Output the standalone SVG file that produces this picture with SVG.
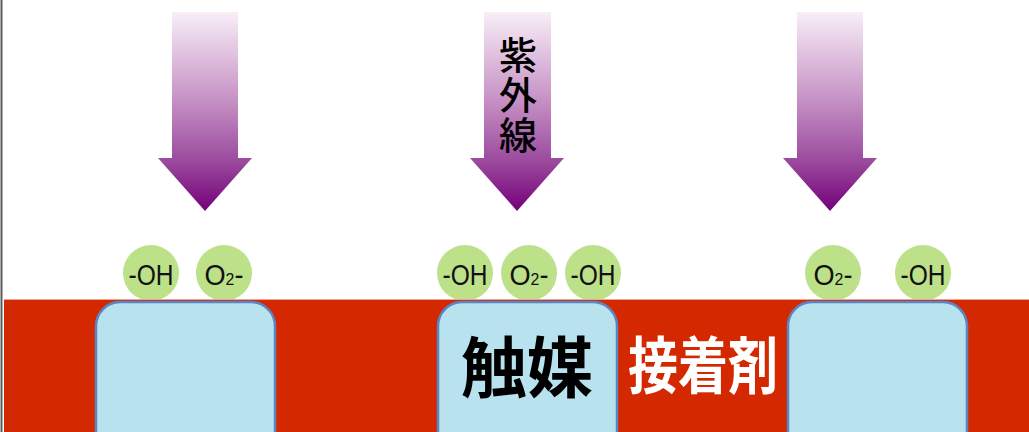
<svg xmlns="http://www.w3.org/2000/svg" width="1029" height="432" viewBox="0 0 1029 432">
<defs>
<linearGradient id="uv" x1="0" y1="12" x2="0" y2="211" gradientUnits="userSpaceOnUse">
<stop offset="0" stop-color="#F8EFF7"/>
<stop offset="0.45" stop-color="#C58FC4"/>
<stop offset="0.75" stop-color="#9B4A9D"/>
<stop offset="1" stop-color="#74007A"/>
</linearGradient>
<style>
.arrow{fill:url(#uv);}
.ion{fill:#BCE189;}
.cat{fill:#B8E2EE;stroke:#5A85C3;stroke-width:2.5;}
.lbl{font-family:"Liberation Sans",Arial,sans-serif;font-size:29px;fill:#111;text-anchor:middle;}
.sub{font-size:17px;}
.jp{font-family:"Noto Sans CJK JP","Noto Sans",sans-serif;text-anchor:middle;}
.vert{font-family:"Noto Sans CJK JP","Noto Sans",sans-serif;writing-mode:vertical-rl;text-orientation:upright;}
</style>
</defs>
<rect width="1029" height="432" fill="#FFFFFF"/>
<line x1="1.5" y1="0" x2="1.5" y2="432" stroke="#5A5A5A" stroke-width="2"/>

<g id="arrow-left"><polygon class="arrow" points="172,12 238,12 238,158 252,158 205,211 158,158 172,158"/></g>
<g id="arrow-center">
<polygon class="arrow" points="484,12 551,12 551,158 564,158 517,211 470,158 484,158"/>
<text class="vert" x="518" y="36" font-size="38" font-weight="500" letter-spacing="2" fill="#000">紫外線</text>
</g>
<g id="arrow-right"><polygon class="arrow" points="797,12 863,12 863,158 877,158 830,211 783,158 797,158"/></g>

<g id="ions">
<g id="ion1"><circle class="ion" cx="151" cy="273" r="28"/><text class="lbl" x="151" y="285" textLength="45" lengthAdjust="spacingAndGlyphs">-OH</text></g>
<g id="ion2"><circle class="ion" cx="224" cy="273" r="28"/><text class="lbl" x="224" y="285" textLength="39" lengthAdjust="spacingAndGlyphs">O<tspan class="sub">2</tspan>-</text></g>
<g id="ion3"><circle class="ion" cx="465" cy="273" r="28"/><text class="lbl" x="465" y="285" textLength="45" lengthAdjust="spacingAndGlyphs">-OH</text></g>
<g id="ion4"><circle class="ion" cx="529" cy="273" r="28"/><text class="lbl" x="529" y="285" textLength="39" lengthAdjust="spacingAndGlyphs">O<tspan class="sub">2</tspan>-</text></g>
<g id="ion5"><circle class="ion" cx="593" cy="273" r="28"/><text class="lbl" x="593" y="285" textLength="45" lengthAdjust="spacingAndGlyphs">-OH</text></g>
<g id="ion6"><circle class="ion" cx="833" cy="273" r="28"/><text class="lbl" x="833" y="285" textLength="39" lengthAdjust="spacingAndGlyphs">O<tspan class="sub">2</tspan>-</text></g>
<g id="ion7"><circle class="ion" cx="923" cy="273" r="28"/><text class="lbl" x="923" y="285" textLength="45" lengthAdjust="spacingAndGlyphs">-OH</text></g>
</g>

<g id="adhesive">
<rect x="4" y="300" width="1025" height="132" fill="#D42800"/>
<line x1="4" y1="299.5" x2="1029" y2="299.5" stroke="#EFA596" stroke-width="1"/>
<text class="jp" x="703" y="389" font-size="62" font-weight="600" fill="#FFFFFF" textLength="150" lengthAdjust="spacingAndGlyphs">接着剤</text>
</g>

<g id="catalyst-left"><rect class="cat" x="96" y="302" width="179" height="160" rx="24"/></g>
<g id="catalyst-center"><rect class="cat" x="438" y="302" width="179" height="160" rx="24"/>
<text class="jp" x="527" y="392" font-size="66" font-weight="600" fill="#000">触媒</text></g>
<g id="catalyst-right"><rect class="cat" x="788" y="302" width="179" height="160" rx="24"/></g>
<g id="connectors"></g>
</svg>
